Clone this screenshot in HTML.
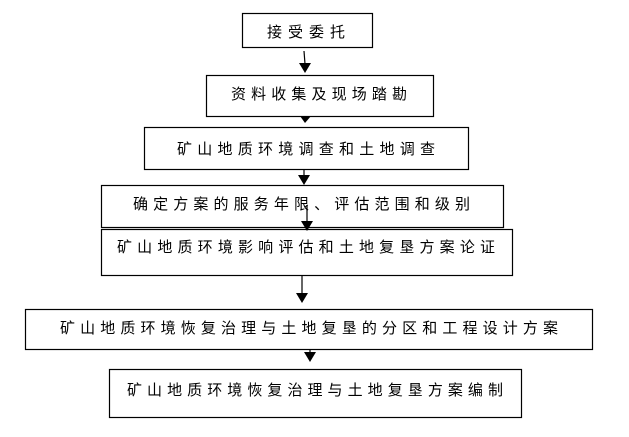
<!DOCTYPE html>
<html><head><meta charset="utf-8"><style>
html,body{margin:0;padding:0;background:#fff;}
svg{display:block;}
text{font-family:"Liberation Sans","Noto Sans CJK SC","WenQuanYi Zen Hei",sans-serif;font-size:15px;fill:#000;}
</style></head><body>
<svg width="629" height="437" viewBox="0 0 629 437" xmlns="http://www.w3.org/2000/svg">
<defs><marker id="a" markerWidth="8" markerHeight="8" refX="4" refY="8" orient="auto" markerUnits="userSpaceOnUse"><path d="M0,0 L8,0 L4,8 Z" fill="#000" transform="rotate(-90 4 4)"/></marker></defs>
<g fill="none" stroke="#000" stroke-width="1.2">
<rect x="242.5" y="13.5" width="130" height="34"/>
<rect x="206.5" y="75.5" width="227" height="41"/>
<rect x="144.5" y="127.5" width="324" height="42"/>
<rect x="101.5" y="185.5" width="402" height="42"/>
<rect x="101.5" y="229.5" width="411" height="46"/>
<rect x="25.5" y="309.5" width="567" height="40"/>
<rect x="109.5" y="369.5" width="412" height="48"/>
<line x1="304" y1="51" x2="305" y2="64"/>
<line x1="304" y1="169" x2="304" y2="176"/>
<line x1="307" y1="205" x2="307" y2="222"/>
<line x1="302" y1="276" x2="302" y2="294"/>
<line x1="310" y1="349" x2="310" y2="353"/>
</g>
<g fill="#000">
<path d="M299,63 L311,63 L305,73 Z"/>
<path d="M300,116 L311,116 L305,123 Z"/>
<path d="M298,175 L310,175 L304,185 Z"/>
<path d="M301,221 L313,221 L307,231 Z"/>
<path d="M296,293 L308,293 L302,303 Z"/>
<path d="M304,352 L316,352 L310,362 Z"/>
</g>
<text x="267" y="37" textLength="78" lengthAdjust="spacing">接受委托</text>
<text x="231" y="99" textLength="176" lengthAdjust="spacing">资料收集及现场踏勘</text>
<text x="177" y="154" textLength="258" lengthAdjust="spacing">矿山地质环境调查和土地调查</text>
<text x="133" y="209" textLength="337" lengthAdjust="spacing">确定方案的服务年限、评估范围和级别</text>
<text x="117" y="252" textLength="378" lengthAdjust="spacing">矿山地质环境影响评估和土地复垦方案论证</text>
<text x="60" y="333" textLength="498" lengthAdjust="spacing">矿山地质环境恢复治理与土地复垦的分区和工程设计方案</text>
<text x="127" y="395" textLength="376" lengthAdjust="spacing">矿山地质环境恢复治理与土地复垦方案编制</text>
</svg>
</body></html>
